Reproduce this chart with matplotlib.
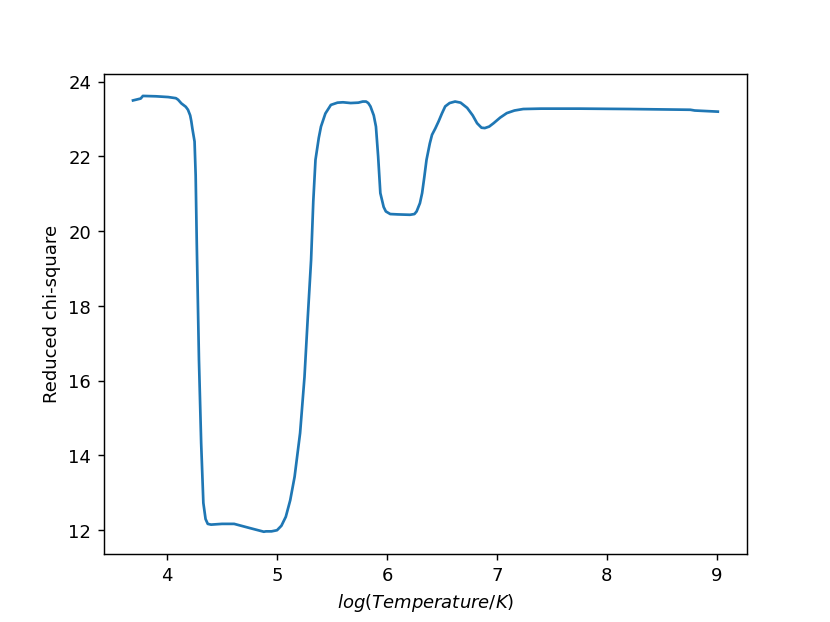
import matplotlib
matplotlib.use("Agg")
import matplotlib.pyplot as plt

# log(T) grid and reduced chi-square
log_temp = [3.69, 3.76, 3.78, 3.90, 4.01, 4.08, 4.10, 4.13, 4.17, 4.19, 4.21, 4.22,
            4.23, 4.25, 4.26, 4.27, 4.29, 4.31, 4.33, 4.35, 4.37, 4.40, 4.50, 4.61,
            4.75, 4.88, 4.90, 4.95, 5.00, 5.04, 5.08, 5.12, 5.16, 5.21, 5.25, 5.28,
            5.31, 5.33, 5.35, 5.38, 5.40, 5.44, 5.49, 5.55, 5.60, 5.67, 5.74, 5.78,
            5.81, 5.83, 5.85, 5.88, 5.90, 5.92, 5.94, 5.97, 5.99, 6.03, 6.10, 6.21,
            6.25, 6.27, 6.30, 6.32, 6.34, 6.36, 6.39, 6.41, 6.44, 6.47, 6.50, 6.53,
            6.57, 6.62, 6.67, 6.73, 6.78, 6.82, 6.86, 6.89, 6.93, 6.97, 7.03, 7.09,
            7.16, 7.24, 7.40, 7.76, 8.20, 8.76, 8.80, 9.01]
chi2 = [23.50, 23.55, 23.62, 23.61, 23.59, 23.56, 23.52, 23.42, 23.33, 23.25, 23.10, 22.95,
        22.75, 22.40, 21.50, 19.69, 16.56, 14.33, 12.73, 12.30, 12.17, 12.15, 12.17, 12.17,
        12.06, 11.96, 11.97, 11.97, 12.00, 12.12, 12.36, 12.80, 13.43, 14.60, 16.10, 17.70,
        19.23, 20.80, 21.91, 22.50, 22.80, 23.15, 23.38, 23.44, 23.45, 23.43, 23.44, 23.47,
        23.47, 23.43, 23.34, 23.10, 22.80, 22.00, 21.02, 20.65, 20.53, 20.46, 20.45, 20.44,
        20.46, 20.53, 20.75, 21.02, 21.45, 21.91, 22.35, 22.58, 22.75, 22.94, 23.15, 23.34,
        23.43, 23.47, 23.44, 23.30, 23.10, 22.89, 22.77, 22.76, 22.80, 22.89, 23.04, 23.16,
        23.23, 23.27, 23.28, 23.28, 23.27, 23.25, 23.23, 23.20]

# default 6.4x4.8 figure, saved at ~130 dpi -> 830x623
fig, ax = plt.subplots(figsize=(6.4, 4.8))
ax.plot(log_temp, chi2, color="#1f77b4")
ax.set_xlabel("$log(Temperature/K)$")
ax.set_ylabel("Reduced chi-square")

fig.savefig("out.png", dpi=129.7)
